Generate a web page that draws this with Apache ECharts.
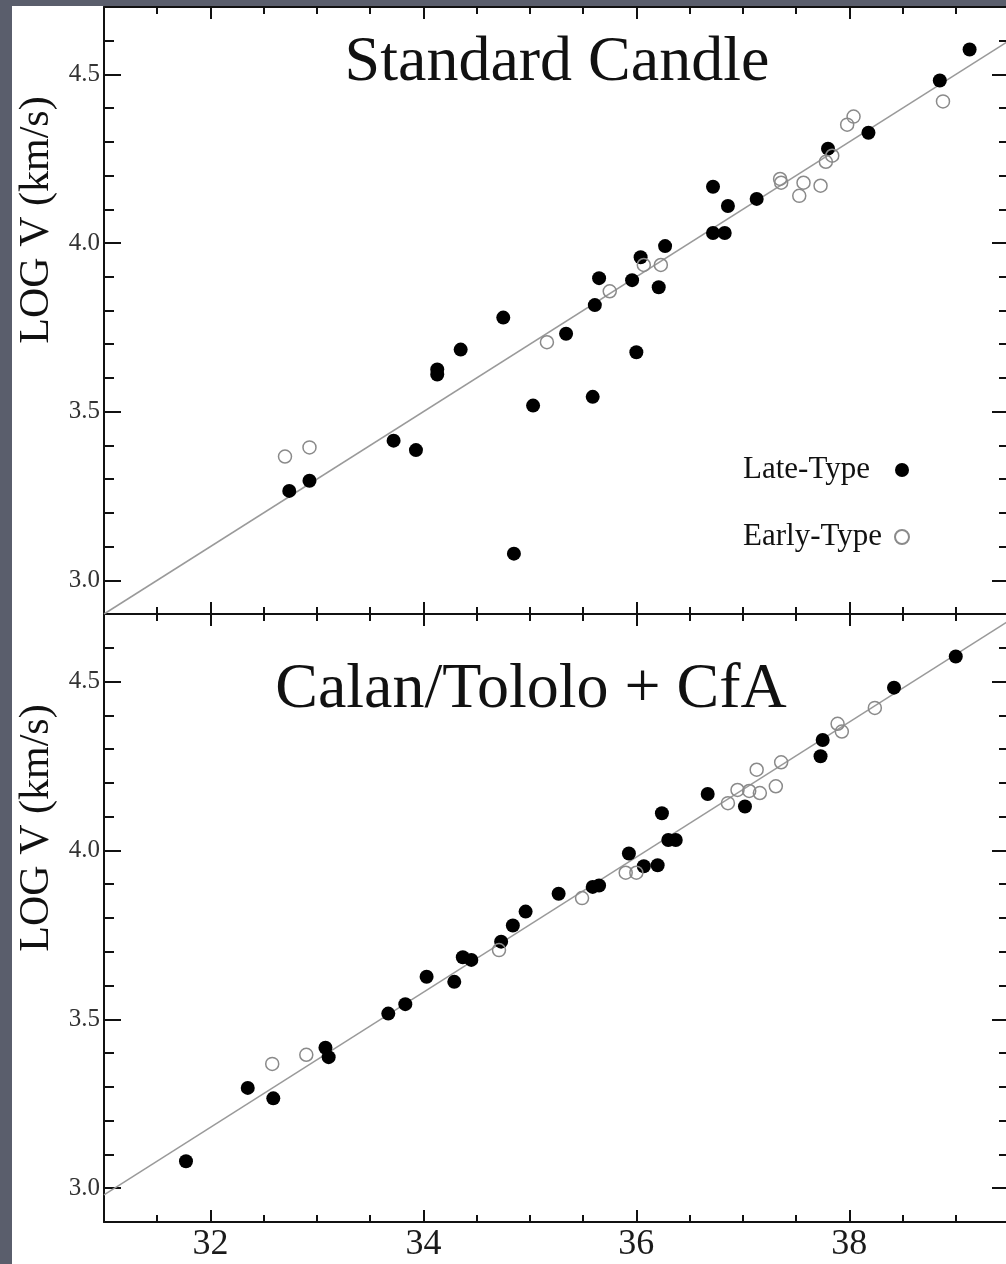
<!DOCTYPE html>
<html>
<head>
<meta charset="utf-8">
<script src="https://cdn.jsdelivr.net/npm/echarts@6/dist/echarts.min.js"></script>
<style>
  html, body { margin: 0; padding: 0; width: 1006px; height: 1264px; overflow: hidden; background: #5a5e6c; }
  #sheet { position: absolute; left: 12px; top: 6px; right: 0; bottom: 0; background: #ffffff; }
  #chart { position: absolute; left: 0; top: 0; width: 1006px; height: 1264px; }
</style>
</head>
<body>
<div id="sheet"></div>
<div id="chart"></div>
<script>
// Distance modulus (m) vs. log recession velocity for SNe Ia hosts.
// Standard-candle sample
const stdLate = [
  [32.74, 3.265], [32.93, 3.295], [33.72, 3.414], [33.93, 3.386], [34.13, 3.625],
  [34.13, 3.610], [34.35, 3.684], [34.75, 3.779], [34.85, 3.079], [35.03, 3.518],
  [35.34, 3.731], [35.59, 3.544], [35.61, 3.816], [35.65, 3.896], [35.96, 3.890],
  [36.00, 3.676], [36.04, 3.958], [36.21, 3.869], [36.27, 3.991], [36.72, 4.167],
  [36.72, 4.030], [36.83, 4.030], [36.86, 4.110], [37.13, 4.131], [37.80, 4.280],
  [38.18, 4.327], [38.85, 4.482], [39.13, 4.574]
];
const stdEarly = [
  [32.70, 3.367], [32.93, 3.394], [35.16, 3.706], [35.75, 3.857], [36.07, 3.935],
  [36.23, 3.935], [37.35, 4.190], [37.36, 4.179], [37.53, 4.140], [37.57, 4.179],
  [37.73, 4.170], [37.78, 4.241], [37.84, 4.259], [37.98, 4.351], [38.04, 4.375],
  [38.88, 4.420]
];
const stdFit = [[31.0, 2.90], [39.5, 4.60]];

// Calan/Tololo + CfA sample
const ctLate = [
  [31.77, 3.080], [32.35, 3.297], [32.59, 3.266], [33.08, 3.416], [33.11, 3.388],
  [33.67, 3.517], [33.83, 3.545], [34.03, 3.626], [34.29, 3.611], [34.37, 3.684],
  [34.45, 3.676], [34.73, 3.730], [34.84, 3.778], [34.96, 3.819], [35.27, 3.872],
  [35.59, 3.892], [35.65, 3.896], [35.93, 3.991], [36.07, 3.953], [36.20, 3.956],
  [36.24, 4.110], [36.30, 4.031], [36.37, 4.031], [36.67, 4.167], [37.02, 4.130],
  [37.73, 4.279], [37.75, 4.327], [38.42, 4.482], [39.00, 4.574]
];
const ctEarly = [
  [32.58, 3.368], [32.90, 3.395], [34.71, 3.705], [35.49, 3.859], [35.90, 3.934],
  [36.00, 3.934], [36.86, 4.140], [36.95, 4.179], [37.06, 4.176], [37.13, 4.239],
  [37.16, 4.170], [37.31, 4.190], [37.36, 4.261], [37.89, 4.375], [37.93, 4.352],
  [38.24, 4.422]
];
const ctFit = [[31.0, 2.98], [39.5, 4.68]];

// Axis ranges and tick marks
const xRange = [31, 39.5];
const yRange = [2.9, 4.7];
const xMajorTicks = [32, 34, 36, 38];
const yMajorTicks = [3.0, 3.5, 4.0, 4.5];
const panelTitles = ['Standard Candle', 'Calan/Tololo + CfA'];
const yAxisTitle = 'LOG V (km/s)';
const legendNames = ['Late-Type', 'Early-Type'];

const SERIF = '"Liberation Serif", "Times New Roman", Times, serif';
const INK = '#111111';

// Each frame side is two overlaid axes: fine ticks every step, long ticks at the majors.
function xSide(grid, position, withLabels) {
  return [
    {
      type: 'value', gridIndex: grid, position: position, min: xRange[0], max: xRange[1], interval: 0.5,
      axisLine: { show: true, onZero: false, lineStyle: { color: INK, width: 2 } },
      axisTick: { show: true, inside: true, length: 7, lineStyle: { color: INK, width: 2 } },
      axisLabel: { show: false }, splitLine: { show: false }
    },
    {
      type: 'value', gridIndex: grid, position: position, min: xRange[0], max: xRange[1],
      axisLine: { show: false, onZero: false },
      axisTick: { show: true, inside: true, length: 12, customValues: xMajorTicks, lineStyle: { color: INK, width: 2 } },
      axisLabel: {
        show: withLabels, customValues: xMajorTicks, margin: 5, color: '#1a1a1a',
        fontFamily: SERIF, fontSize: 36, formatter: function (v) { return String(Math.round(v)); }
      },
      splitLine: { show: false }
    }
  ];
}
function ySide(grid, position, withLabels) {
  return [
    {
      type: 'value', gridIndex: grid, position: position, min: yRange[0], max: yRange[1], interval: 0.1,
      axisLine: { show: true, onZero: false, lineStyle: { color: INK, width: 2 } },
      axisTick: { show: true, inside: true, length: 10, lineStyle: { color: INK, width: 2 } },
      axisLabel: { show: false }, splitLine: { show: false }
    },
    {
      type: 'value', gridIndex: grid, position: position, min: yRange[0], max: yRange[1],
      axisLine: { show: false, onZero: false },
      axisTick: { show: true, inside: true, length: 17, customValues: yMajorTicks, lineStyle: { color: INK, width: 2 } },
      axisLabel: {
        show: withLabels, customValues: yMajorTicks, margin: 4, color: '#333333',
        fontFamily: SERIF, fontSize: 25, formatter: function (v) { return v.toFixed(1); }
      },
      splitLine: { show: false }
    }
  ];
}

const xAxes = [].concat(
  xSide(0, 'bottom', false), xSide(0, 'top', false),   // indices 0-3
  xSide(1, 'bottom', true), xSide(1, 'top', false)     // indices 4-7
);
const yAxes = [].concat(
  ySide(0, 'left', true), ySide(0, 'right', false),    // indices 0-3
  ySide(1, 'left', true), ySide(1, 'right', false)     // indices 4-7
);

const lateStyle = { color: '#000000', opacity: 1 };
const earlyStyle = { color: 'rgba(255,255,255,0)', borderColor: '#8a8a8a', borderWidth: 1.5, opacity: 1 };

function panelSeries(axisIdx, late, early, fit) {
  return [
    {
      type: 'line', xAxisIndex: axisIdx, yAxisIndex: axisIdx, data: fit, showSymbol: false, silent: true,
      lineStyle: { color: '#9a9a9a', width: 1.5 }, z: 1, emphasis: { disabled: true }
    },
    {
      name: legendNames[0], type: 'scatter', xAxisIndex: axisIdx, yAxisIndex: axisIdx, data: late,
      symbol: 'circle', symbolSize: 14, itemStyle: lateStyle, z: 3, emphasis: { disabled: true }
    },
    {
      name: legendNames[1], type: 'scatter', xAxisIndex: axisIdx, yAxisIndex: axisIdx, data: early,
      symbol: 'circle', symbolSize: 13, itemStyle: earlyStyle, z: 4, emphasis: { disabled: true }
    }
  ];
}

const chart = echarts.init(document.getElementById('chart'), null, { renderer: 'canvas' });
chart.setOption({
  animation: false,
  backgroundColor: 'transparent',
  grid: [
    { left: 104, top: 7, width: 905, height: 607, containLabel: false, outerBoundsMode: 'none' },
    { left: 104, top: 614, width: 905, height: 608, containLabel: false, outerBoundsMode: 'none' }
  ],
  xAxis: xAxes,
  yAxis: yAxes,
  legend: {
    data: legendNames, orient: 'vertical', align: 'right', left: 743, top: 454, padding: 0,
    itemGap: 35, itemWidth: 14, itemHeight: 14, icon: 'circle', selectedMode: false,
    formatter: function (name) { return '{w|' + name + '}'; },
    textStyle: {
      color: INK, fontFamily: SERIF, fontSize: 31, lineHeight: 32,
      rich: { w: { width: 147, align: 'left', color: INK, fontFamily: SERIF, fontSize: 31, lineHeight: 32 } }
    }
  },
  graphic: [
    { type: 'text', x: 557, y: 63, silent: true,
      style: { text: panelTitles[0], font: '64px ' + SERIF, fill: INK, align: 'center', verticalAlign: 'middle' } },
    { type: 'text', x: 531, y: 690, silent: true,
      style: { text: panelTitles[1], font: '64px ' + SERIF, fill: INK, align: 'center', verticalAlign: 'middle' } },
    { type: 'text', x: 37, y: 220, rotation: Math.PI / 2, silent: true,
      style: { text: yAxisTitle, font: '42px ' + SERIF, fill: INK, align: 'center', verticalAlign: 'middle' } },
    { type: 'text', x: 37, y: 828, rotation: Math.PI / 2, silent: true,
      style: { text: yAxisTitle, font: '42px ' + SERIF, fill: INK, align: 'center', verticalAlign: 'middle' } }
  ],
  series: [].concat(
    panelSeries(0, stdLate, stdEarly, stdFit),
    panelSeries(4, ctLate, ctEarly, ctFit)
  )
});
</script>
</body>
</html>
